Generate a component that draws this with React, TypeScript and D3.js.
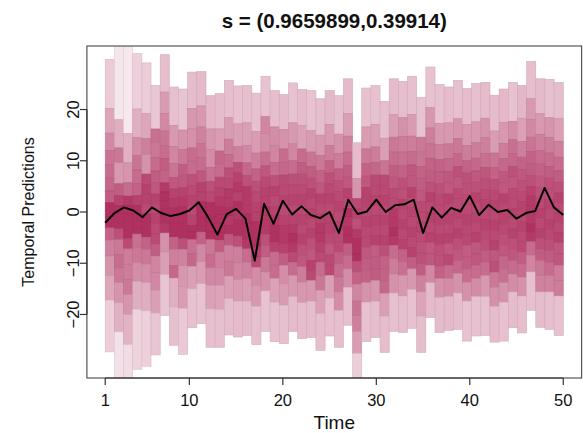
import React from "react";
import * as d3 from "d3";

const chartTitle = "s = (0.9659899,0.39914)";
const xLabel = "Time";
const yLabel = "Temporal Predictions";
const xTicks = [1, 10, 20, 30, 40, 50];
const yTicks = [-20, -10, 0, 10, 20];

// time points of the observed (black) series
const timePoints = [
  1, 2, 3, 4, 5, 6, 7, 8, 9, 10, 11, 12, 13, 14, 15, 16, 17, 18, 19, 20, 21, 22, 23, 24, 25,
  26, 27, 28, 29, 30, 31, 32, 33, 34, 35, 36, 37, 38, 39, 40, 41, 42, 43, 44, 45, 46, 47, 48, 49, 50,
];
const observed = [
  -2.1, -0.2, 0.9, 0.3, -1.0, 0.9, -0.2, -0.8, -0.4, 0.3, 1.9, -1.0, -4.4, -0.4, 0.6, -1.3, -9.5, 1.6, -2.3, 2.2,
  -0.5, 1.1, -0.6, -1.2, 0.0, -4.1, 2.4, -0.4, 0.1, 2.4, 0.0, 1.3, 1.5, 2.4, -4.1, 0.9, -1.1, 0.8, 0.1, 3.1,
  -0.6, 1.4, 0.0, 0.4, -1.3, -0.2, 0.2, 4.7, 0.9, -0.6,
];

// probability levels of the quantile boundaries (top to bottom)
const probLevels = [0.9, 0.85, 0.8, 0.75, 0.7, 0.65, 0.6, 0.55, 0.5, 0.45, 0.4, 0.35, 0.3, 0.25, 0.2, 0.15, 0.1];

// predictive quantiles for each of the 50 boxes (top to bottom)
const quantileRows = [
  [29.8, 20.2, 15.4, 12.0, 9.2, 6.6, 4.1, 1.8, 0.3, -1.0, -2.0, -3.1, -5.5, -8.6, -12.4, -17.2, -27.3],
  [42, 18.0, 12.5, 9.6, 5.5, 3.2, 1.3, -0.4, -2.0, -3.3, -5.4, -8.3, -10.9, -13.8, -17.7, -23.4, -42],
  [42, 15.3, 9.6, 5.7, 3.1, 1.3, -0.4, -2.0, -3.6, -5.2, -7.2, -10.2, -13.2, -16.1, -20.0, -25.9, -42],
  [30.9, 20.1, 14.5, 11.0, 8.2, 5.6, 3.2, 1.3, -0.4, -1.8, -3.1, -4.3, -7.0, -9.9, -13.5, -19.0, -30.7],
  [29.1, 19.2, 14.3, 11.2, 7.4, 5.4, 3.5, 1.6, -0.4, -2.0, -3.4, -4.9, -7.3, -10.2, -13.8, -19.3, -30.1],
  [24.7, 16.2, 13.5, 10.6, 8.0, 5.7, 3.5, 1.6, -0.4, -2.3, -4.3, -6.3, -8.6, -11.9, -15.3, -19.7, -27.9],
  [30.7, 23.4, 19.2, 15.8, 13.0, 10.4, 8.1, 5.7, 3.9, 2.2, 0.6, -0.8, -2.3, -4.1, -7.8, -12.2, -20.2],
  [24.4, 16.9, 12.8, 9.5, 6.7, 4.5, 2.6, 0.8, -0.8, -2.3, -3.6, -4.9, -7.3, -10.4, -12.9, -18.5, -26.0],
  [24.0, 16.0, 12.2, 9.3, 7.0, 4.8, 2.9, 1.1, -0.6, -2.1, -3.6, -5.2, -7.3, -10.5, -14.5, -18.8, -27.8],
  [27.3, 20.2, 16.2, 12.5, 9.9, 7.3, 5.2, 3.2, 1.3, -0.7, -2.6, -3.9, -5.4, -8.1, -10.6, -15.0, -22.6],
  [27.4, 20.7, 16.6, 13.4, 10.6, 8.0, 5.8, 3.9, 2.0, 0.3, -1.3, -2.6, -3.9, -6.3, -9.7, -14.0, -21.8],
  [22.7, 16.2, 12.2, 8.7, 6.0, 3.9, 1.9, 0.3, -1.2, -2.6, -3.9, -5.4, -8.3, -10.9, -14.3, -18.9, -26.4],
  [23.1, 16.2, 11.9, 9.4, 6.8, 4.8, 2.9, 1.1, -0.6, -2.3, -3.9, -5.5, -7.8, -10.9, -14.3, -19.0, -26.4],
  [25.7, 18.4, 14.2, 11.2, 8.6, 6.5, 4.5, 2.7, 0.9, -0.8, -2.6, -4.3, -6.5, -9.6, -12.5, -16.9, -24.0],
  [24.6, 17.2, 12.8, 9.7, 7.6, 5.7, 3.9, 2.0, 0.3, -1.5, -3.2, -4.7, -6.8, -9.9, -13.2, -17.4, -24.4],
  [24.7, 17.4, 13.0, 9.6, 7.1, 5.0, 3.2, 1.4, -0.4, -2.1, -3.8, -5.4, -7.2, -9.8, -13.0, -17.4, -24.1],
  [23.2, 15.7, 11.5, 8.4, 6.0, 3.9, 1.9, 0.0, -1.9, -3.6, -5.2, -6.9, -8.8, -10.8, -14.3, -18.4, -25.9],
  [26.5, 18.6, 15.3, 11.7, 9.0, 6.8, 4.8, 2.9, 1.0, -0.8, -2.6, -4.4, -6.5, -8.8, -11.7, -15.4, -23.3],
  [23.7, 16.6, 13.0, 9.7, 7.1, 5.0, 3.1, 1.1, -0.8, -2.6, -4.2, -5.9, -7.8, -10.4, -13.0, -17.6, -25.3],
  [22.9, 16.1, 12.3, 9.7, 7.2, 5.2, 3.2, 1.3, -0.7, -2.6, -4.4, -6.2, -8.1, -10.4, -14.0, -18.2, -25.7],
  [25.2, 17.4, 13.3, 10.0, 7.4, 5.3, 3.3, 1.4, -0.6, -2.5, -4.3, -6.0, -7.8, -9.8, -12.4, -16.5, -23.3],
  [23.9, 16.9, 12.3, 9.7, 7.4, 5.3, 3.3, 1.4, -0.6, -2.5, -4.5, -6.4, -8.5, -10.7, -13.7, -17.7, -24.7],
  [23.7, 15.9, 11.7, 8.9, 6.6, 4.5, 2.6, 0.6, -1.3, -3.3, -5.2, -7.3, -9.5, -11.4, -13.4, -17.4, -24.5],
  [22.1, 15.0, 11.0, 8.1, 5.7, 3.5, 1.6, -0.4, -2.3, -4.1, -5.9, -7.8, -9.8, -12.4, -15.3, -19.8, -27.0],
  [23.7, 17.1, 13.0, 10.0, 7.6, 5.5, 3.5, 1.6, -0.4, -2.3, -4.2, -6.2, -8.4, -10.4, -12.4, -16.8, -24.2],
  [22.7, 15.2, 11.4, 8.4, 6.1, 4.0, 2.0, 0.1, -1.9, -3.8, -5.8, -7.8, -10.1, -12.7, -15.6, -19.2, -26.4],
  [26.0, 19.2, 14.8, 11.7, 9.1, 6.8, 4.6, 2.7, 0.7, -1.0, -2.8, -4.5, -6.2, -8.5, -11.1, -14.7, -22.1],
  [13.5, 6.5, 2.6, 0.6, -1.3, -3.4, -5.2, -6.7, -8.2, -9.6, -11.7, -14.1, -17.4, -20.2, -23.3, -27.6, -38],
  [24.2, 16.6, 12.3, 9.4, 7.0, 4.8, 2.9, 1.0, -1.0, -2.9, -4.9, -6.9, -9.1, -11.4, -13.8, -17.6, -25.3],
  [24.7, 17.1, 12.7, 9.7, 7.2, 5.2, 3.2, 1.3, -0.7, -2.6, -4.6, -6.5, -8.8, -11.1, -13.4, -17.4, -24.5],
  [21.6, 14.4, 10.0, 7.2, 5.2, 3.2, 1.3, -0.7, -2.6, -4.6, -6.5, -8.6, -11.0, -13.4, -15.9, -20.3, -27.4],
  [26.0, 19.0, 14.6, 11.7, 9.1, 6.8, 4.6, 2.6, 0.6, -1.2, -3.0, -4.7, -6.5, -9.1, -12.1, -15.8, -23.3],
  [25.5, 18.4, 14.7, 11.7, 9.0, 6.6, 4.5, 2.4, 0.5, -1.5, -3.4, -5.4, -7.3, -9.7, -12.4, -16.4, -23.5],
  [26.5, 19.0, 14.8, 11.8, 9.2, 7.0, 4.8, 2.9, 0.9, -1.0, -3.0, -4.9, -6.9, -8.8, -11.1, -15.1, -22.7],
  [22.4, 14.6, 11.7, 8.9, 6.5, 4.2, 2.0, 0.0, -2.0, -3.9, -5.9, -8.0, -10.1, -12.4, -15.6, -20.3, -27.4],
  [28.3, 20.4, 16.4, 13.3, 10.5, 8.1, 5.8, 3.7, 1.8, -0.2, -2.1, -4.1, -6.0, -8.2, -10.4, -13.8, -20.6],
  [24.9, 17.3, 13.2, 10.2, 7.8, 5.5, 3.4, 1.4, -0.6, -2.5, -4.5, -6.4, -8.5, -10.6, -13.0, -16.7, -23.5],
  [24.4, 17.4, 13.3, 10.4, 7.9, 5.7, 3.5, 1.6, -0.4, -2.3, -4.3, -6.2, -8.4, -10.4, -13.0, -16.5, -23.1],
  [25.7, 18.2, 14.3, 11.4, 8.9, 6.8, 4.6, 2.6, 0.6, -1.3, -3.3, -5.2, -7.3, -9.5, -12.0, -15.8, -22.9],
  [24.1, 17.1, 13.0, 10.0, 7.6, 5.5, 3.4, 1.4, -0.6, -2.5, -4.5, -6.5, -8.8, -11.1, -13.7, -17.4, -25.2],
  [25.1, 17.6, 13.5, 10.5, 8.0, 5.8, 3.7, 1.8, -0.2, -2.1, -4.1, -6.0, -8.2, -10.4, -13.0, -16.5, -24.2],
  [25.3, 18.3, 14.5, 11.4, 8.7, 6.5, 4.4, 2.4, 0.5, -1.5, -3.4, -5.4, -7.5, -9.8, -12.4, -16.5, -24.1],
  [22.8, 15.8, 11.5, 8.7, 6.3, 4.2, 2.2, 0.3, -1.7, -3.6, -5.6, -7.5, -9.7, -11.8, -14.7, -18.4, -25.4],
  [24.0, 17.5, 13.4, 10.4, 7.9, 5.7, 3.5, 1.6, -0.4, -2.3, -4.3, -6.4, -8.6, -11.1, -13.8, -17.6, -25.2],
  [25.3, 17.7, 14.1, 11.4, 8.9, 6.8, 4.6, 2.6, 0.6, -1.3, -3.3, -5.2, -7.3, -9.5, -12.1, -15.6, -22.6],
  [24.7, 18.3, 13.8, 10.7, 8.3, 6.1, 4.0, 2.0, 0.1, -1.9, -3.8, -5.8, -7.8, -10.1, -12.7, -16.4, -23.6],
  [29.4, 22.1, 18.0, 14.6, 11.8, 9.4, 7.1, 5.0, 3.1, 1.3, -0.5, -2.3, -4.0, -5.8, -8.4, -11.7, -19.2],
  [26.0, 19.2, 15.1, 12.0, 9.4, 7.0, 4.8, 2.7, 0.7, -1.2, -3.2, -5.1, -7.2, -9.5, -12.4, -15.6, -22.5],
  [25.9, 18.4, 14.5, 11.5, 8.9, 6.6, 4.5, 2.4, 0.5, -1.5, -3.4, -5.4, -7.5, -9.8, -12.4, -15.6, -22.9],
  [25.3, 18.2, 13.8, 10.7, 8.1, 5.8, 3.7, 1.8, -0.2, -2.1, -4.1, -6.0, -8.2, -10.4, -13.4, -16.4, -24.1],
];

const W = 583;
const H = 433;
const plot = { left: 86.9, right: 581.6, top: 46, bottom: 378 };
const FONT = "'Liberation Sans', Arial, Helvetica, sans-serif";

export default function App() {
  const x = d3.scaleLinear().domain([-0.96, 51.96]).range([plot.left, plot.right]);
  const y = d3.scaleLinear().domain([-32.4, 32.4]).range([plot.bottom, plot.top]);

  // boxes evenly split the span between the first and last time point
  const nBoxes = quantileRows.length;
  const boxEdge = d3
    .scaleLinear()
    .domain([0, nBoxes])
    .range([timePoints[0], timePoints[timePoints.length - 1]]);

  const shade = d3.scalePow().exponent(0.8).domain([0, 0.05 / 1.7]).range([0, 1]).clamp(true);
  const ramp = d3.interpolateRgb("#ffffff", "#b03060");

  const rects: React.ReactNode[] = [];
  quantileRows.forEach((row, i) => {
    const x0 = x(boxEdge(i));
    const x1 = x(boxEdge(i + 1));
    for (let k = 0; k < row.length - 1; k++) {
      const hi = row[k];
      const lo = row[k + 1];
      const mass = probLevels[k] - probLevels[k + 1];
      const density = mass / Math.max(hi - lo, 1e-6);
      const fill = ramp(shade(density));
      const stroke = d3.color(fill)!.darker(0.3).formatRgb();
      rects.push(
        <rect
          key={`${i}-${k}`}
          x={x0}
          y={y(hi)}
          width={x1 - x0}
          height={y(lo) - y(hi)}
          fill={fill}
          stroke={stroke}
          strokeWidth={0.6}
        />
      );
    }
  });

  const line = d3
    .line<number>()
    .x((_, i) => x(timePoints[i]))
    .y((d) => y(d));

  const fmt = (v: number) => d3.format("d")(v);

  return (
    <svg
      width={W}
      height={H}
      style={{ position: "absolute", left: 0, top: 0, background: "#fff" }}
      fontFamily={FONT}
    >
      <defs>
        <clipPath id="plotClip">
          <rect x={plot.left} y={plot.top} width={plot.right - plot.left} height={plot.bottom - plot.top} />
        </clipPath>
      </defs>
      <rect x={0} y={0} width={W} height={H} fill="#fff" />
      <g clipPath="url(#plotClip)">
        {rects}
        <path d={line(observed) || ""} fill="none" stroke="#000" strokeWidth={2} strokeLinejoin="round" />
      </g>
      <rect
        x={plot.left}
        y={plot.top}
        width={plot.right - plot.left}
        height={plot.bottom - plot.top}
        fill="none"
        stroke="#555"
        strokeWidth={1.2}
      />
      {/* x axis */}
      <line x1={x(xTicks[0])} x2={x(xTicks[xTicks.length - 1])} y1={plot.bottom} y2={plot.bottom} stroke="#333" strokeWidth={1.2} />
      {xTicks.map((t) => (
        <g key={`xt${t}`}>
          <line x1={x(t)} x2={x(t)} y1={plot.bottom} y2={plot.bottom + 7} stroke="#333" strokeWidth={1.2} />
          <text x={x(t)} y={406} textAnchor="middle" fontSize={16.5} fill="#111">
            {fmt(t)}
          </text>
        </g>
      ))}
      {/* y axis */}
      <line x1={plot.left} x2={plot.left} y1={y(yTicks[0])} y2={y(yTicks[yTicks.length - 1])} stroke="#333" strokeWidth={1.2} />
      {yTicks.map((t) => (
        <g key={`yt${t}`}>
          <line x1={plot.left - 7} x2={plot.left} y1={y(t)} y2={y(t)} stroke="#333" strokeWidth={1.2} />
          <text
            transform={`translate(79,${y(t)}) rotate(-90)`}
            textAnchor="middle"
            fontSize={16.5}
            fill="#111"
          >
            {fmt(t)}
          </text>
        </g>
      ))}
      <text x={(plot.left + plot.right) / 2} y={429} textAnchor="middle" fontSize={19} fill="#111">
        {xLabel}
      </text>
      <text
        transform={`translate(34,${(plot.top + plot.bottom) / 2}) rotate(-90)`}
        textAnchor="middle"
        fontSize={16}
        fill="#111"
      >
        {yLabel}
      </text>
      <text x={(plot.left + plot.right) / 2} y={28} textAnchor="middle" fontSize={20.5} fontWeight="bold" fill="#111">
        {chartTitle}
      </text>
    </svg>
  );
}
